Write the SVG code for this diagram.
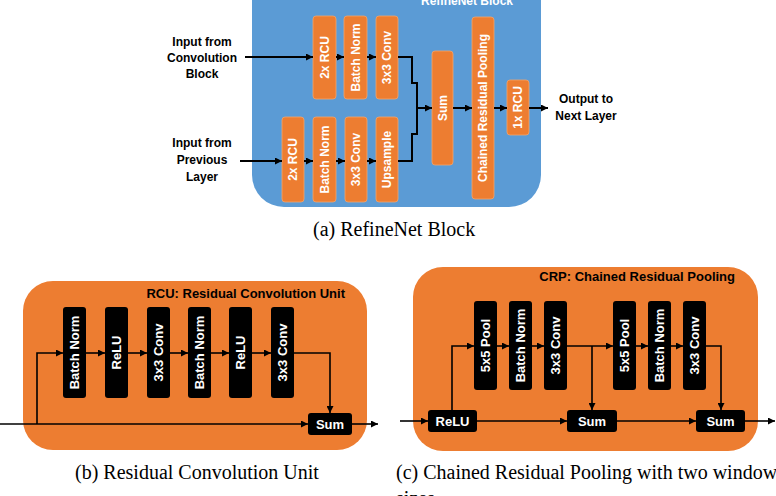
<svg xmlns="http://www.w3.org/2000/svg" width="776" height="496" viewBox="0 0 776 496">
<defs>
<marker id="ah" viewBox="0 0 8 8" markerWidth="7" markerHeight="7" refX="8" refY="4" orient="auto" markerUnits="userSpaceOnUse"><path d="M0,0 L8,4 L0,8 z" fill="#000"/></marker>
<style>
.ob{fill:#ed7d31;stroke:#f4a46a;stroke-width:0.8}
.bb{fill:#000}
.wt{fill:#fff;font-family:"Liberation Sans",Arial,sans-serif;font-weight:bold;font-size:12px;text-anchor:middle}
.wt13{fill:#fff;font-family:"Liberation Sans",Arial,sans-serif;font-weight:bold;font-size:13px;text-anchor:middle}
.lbl{fill:#000;font-family:"Liberation Sans",Arial,sans-serif;font-weight:bold;font-size:12px;text-anchor:middle}
.ttl{fill:#000;font-family:"Liberation Sans",Arial,sans-serif;font-weight:bold;font-size:13px;text-anchor:end}
.cap{fill:#000;font-family:"Liberation Serif","Times New Roman",serif;font-size:20px}
.c2{fill:none;stroke:#000;stroke-width:2}
.c1{fill:none;stroke:#000;stroke-width:1.6}
</style>
</defs>

<!-- Panel (a) -->
<g id="panel-a">
<rect x="252" y="-40" width="289" height="247" rx="32" fill="#5b9bd5"/>
<text x="467" y="5" class="wt">RefineNet Block</text>
</g>
<g id="in-conv"><text class="lbl"><tspan x="202" y="46">Input from</tspan><tspan x="202" y="62">Convolution</tspan><tspan x="202" y="78">Block</tspan></text></g>
<g id="in-prev"><text class="lbl"><tspan x="202" y="147">Input from</tspan><tspan x="202" y="164">Previous</tspan><tspan x="202" y="181">Layer</tspan></text></g>
<g id="out-next"><text class="lbl"><tspan x="586" y="103">Output to</tspan><tspan x="586" y="120">Next Layer</tspan></text></g>

<g id="a-rcu1"><rect class="ob" x="313" y="16" width="23" height="83" rx="3"/><text class="wt" transform="translate(328.8,57.5) rotate(-90)">2x RCU</text></g>
<g id="a-bn1"><rect class="ob" x="344" y="16" width="23" height="83" rx="3"/><text class="wt" transform="translate(359.8,57.5) rotate(-90)">Batch Norm</text></g>
<g id="a-conv1"><rect class="ob" x="376" y="16" width="22" height="83" rx="3"/><text class="wt" transform="translate(391.3,57.5) rotate(-90)">3x3 Conv</text></g>
<g id="a-rcu2"><rect class="ob" x="282" y="117" width="22" height="85" rx="3"/><text class="wt" transform="translate(297.3,159.5) rotate(-90)">2x RCU</text></g>
<g id="a-bn2"><rect class="ob" x="313" y="117" width="23" height="85" rx="3"/><text class="wt" transform="translate(328.8,159.5) rotate(-90)">Batch Norm</text></g>
<g id="a-conv2"><rect class="ob" x="345" y="117" width="22" height="85" rx="3"/><text class="wt" transform="translate(360.3,159.5) rotate(-90)">3x3 Conv</text></g>
<g id="a-up"><rect class="ob" x="376" y="117" width="22" height="85" rx="3"/><text class="wt" transform="translate(391.3,159.5) rotate(-90)">Upsample</text></g>
<g id="a-sum"><rect class="ob" x="432" y="51" width="21" height="114" rx="3"/><text class="wt" transform="translate(446.8,108) rotate(-90)">Sum</text></g>
<g id="a-crp"><rect class="ob" x="472" y="17" width="22" height="182" rx="3"/><text class="wt" transform="translate(487.3,108) rotate(-90)">Chained Residual Pooling</text></g>
<g id="a-rcu3"><rect class="ob" x="507" y="80" width="22" height="55" rx="3"/><text class="wt" transform="translate(522.3,107.5) rotate(-90)">1x RCU</text></g>

<g id="connectors-a">
<path class="c2" d="M245,57 H313" marker-end="url(#ah)"/>
<path class="c2" d="M336,57 H344" marker-end="url(#ah)"/>
<path class="c2" d="M367,57 H376" marker-end="url(#ah)"/>
<path class="c2" d="M398,57 H412 V83 H417 V108 H432" marker-end="url(#ah)"/>
<path class="c2" d="M398,161 H412 V134 H417 V108"/>
<path class="c2" d="M240,161 H282" marker-end="url(#ah)"/>
<path class="c2" d="M304,161 H313" marker-end="url(#ah)"/>
<path class="c2" d="M336,161 H345" marker-end="url(#ah)"/>
<path class="c2" d="M367,161 H376" marker-end="url(#ah)"/>
<path class="c2" d="M453,108 H472" marker-end="url(#ah)"/>
<path class="c2" d="M494,108 H507" marker-end="url(#ah)"/>
<path class="c2" d="M529,108 H548" marker-end="url(#ah)"/>
</g>
<text class="cap" x="313" y="236">(a) RefineNet Block</text>

<!-- Panel (b) -->
<g id="panel-b">
<rect x="23" y="281" width="344" height="169" rx="30" fill="#ed7d31"/>
<text class="ttl" x="345" y="298">RCU: Residual Convolution Unit</text>
</g>
<g id="b-bn1"><rect class="bb" x="63" y="307" width="23" height="91" rx="3"/><text class="wt13" transform="translate(79.2,352.5) rotate(-90)">Batch Norm</text></g>
<g id="b-relu1"><rect class="bb" x="105" y="307" width="23" height="91" rx="3"/><text class="wt13" transform="translate(121.2,352.5) rotate(-90)">ReLU</text></g>
<g id="b-conv1"><rect class="bb" x="147" y="307" width="23" height="91" rx="3"/><text class="wt13" transform="translate(163.2,352.5) rotate(-90)">3x3 Conv</text></g>
<g id="b-bn2"><rect class="bb" x="188" y="307" width="23" height="91" rx="3"/><text class="wt13" transform="translate(204.2,352.5) rotate(-90)">Batch Norm</text></g>
<g id="b-relu2"><rect class="bb" x="229" y="307" width="23" height="91" rx="3"/><text class="wt13" transform="translate(245.2,352.5) rotate(-90)">ReLU</text></g>
<g id="b-conv2"><rect class="bb" x="271" y="307" width="23" height="91" rx="3"/><text class="wt13" transform="translate(287.2,352.5) rotate(-90)">3x3 Conv</text></g>
<g id="b-sum"><rect class="bb" x="308" y="413" width="44" height="22" rx="3"/><text class="wt13" x="330" y="428.5">Sum</text></g>
<g id="connectors-b">
<path class="c1" d="M0,424 H308" marker-end="url(#ah)"/>
<path class="c1" d="M37,424 V353 H63" marker-end="url(#ah)"/>
<path class="c1" d="M86,353 H105" marker-end="url(#ah)"/>
<path class="c1" d="M128,353 H147" marker-end="url(#ah)"/>
<path class="c1" d="M170,353 H188" marker-end="url(#ah)"/>
<path class="c1" d="M211,353 H229" marker-end="url(#ah)"/>
<path class="c1" d="M252,353 H271" marker-end="url(#ah)"/>
<path class="c1" d="M294,353 H330 V413" marker-end="url(#ah)"/>
<path class="c1" d="M352,424 H378" marker-end="url(#ah)"/>
</g>
<text class="cap" x="75" y="479">(b) Residual Convolution Unit</text>

<!-- Panel (c) -->
<g id="panel-c">
<rect x="413" y="267" width="345" height="184" rx="30" fill="#ed7d31"/>
<text class="ttl" x="735" y="281">CRP: Chained Residual Pooling</text>
</g>
<g id="c-pool1"><rect class="bb" x="474" y="301" width="23" height="89" rx="3"/><text class="wt13" transform="translate(490.2,345.5) rotate(-90)">5x5 Pool</text></g>
<g id="c-bn1"><rect class="bb" x="509" y="301" width="23" height="89" rx="3"/><text class="wt13" transform="translate(525.2,345.5) rotate(-90)">Batch Norm</text></g>
<g id="c-conv1"><rect class="bb" x="544" y="301" width="23" height="89" rx="3"/><text class="wt13" transform="translate(560.2,345.5) rotate(-90)">3x3 Conv</text></g>
<g id="c-pool2"><rect class="bb" x="613" y="301" width="23" height="89" rx="3"/><text class="wt13" transform="translate(629.2,345.5) rotate(-90)">5x5 Pool</text></g>
<g id="c-bn2"><rect class="bb" x="648" y="301" width="23" height="89" rx="3"/><text class="wt13" transform="translate(664.2,345.5) rotate(-90)">Batch Norm</text></g>
<g id="c-conv2"><rect class="bb" x="683" y="301" width="23" height="89" rx="3"/><text class="wt13" transform="translate(699.2,345.5) rotate(-90)">3x3 Conv</text></g>
<g id="c-relu"><rect class="bb" x="428" y="410" width="49" height="22" rx="3"/><text class="wt13" x="452.5" y="425.5">ReLU</text></g>
<g id="c-sum1"><rect class="bb" x="567" y="410" width="50" height="22" rx="3"/><text class="wt13" x="592" y="425.5">Sum</text></g>
<g id="c-sum2"><rect class="bb" x="696" y="410" width="49" height="22" rx="3"/><text class="wt13" x="720.5" y="425.5">Sum</text></g>
<g id="connectors-c">
<path class="c1" d="M400,421 H428" marker-end="url(#ah)"/>
<path class="c1" d="M452,410 V346 H474" marker-end="url(#ah)"/>
<path class="c1" d="M497,346 H509" marker-end="url(#ah)"/>
<path class="c1" d="M532,346 H544" marker-end="url(#ah)"/>
<path class="c1" d="M567,346 H613" marker-end="url(#ah)"/>
<path class="c1" d="M592,346 V410" marker-end="url(#ah)"/>
<path class="c1" d="M636,346 H648" marker-end="url(#ah)"/>
<path class="c1" d="M671,346 H683" marker-end="url(#ah)"/>
<path class="c1" d="M706,346 H721 V410" marker-end="url(#ah)"/>
<path class="c1" d="M477,421 H567" marker-end="url(#ah)"/>
<path class="c1" d="M617,421 H696" marker-end="url(#ah)"/>
<path class="c1" d="M745,421 H775" marker-end="url(#ah)"/>
</g>
<text class="cap" x="396" y="479" font-size="20.6">(c) Chained Residual Pooling with two window</text>
<text class="cap" x="396" y="505">sizes</text>
</svg>
